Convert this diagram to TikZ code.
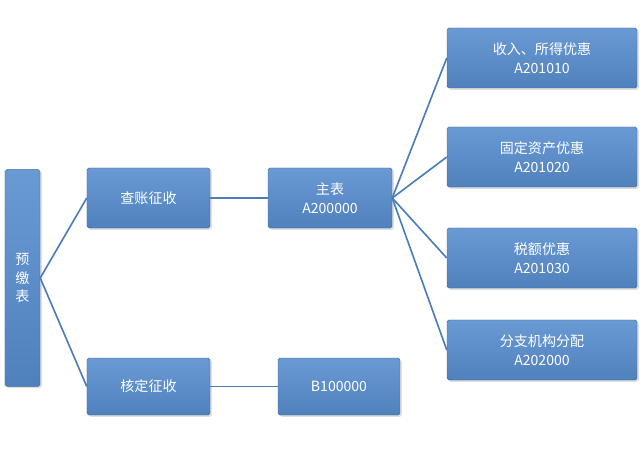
\documentclass[tikz,border=0pt]{standalone}
\usepackage{fontspec}
\setmainfont{Liberation Sans}
\newfontfamily\cjk{Noto Sans CJK SC}
\usetikzlibrary{shadows}
\definecolor{boxblue}{HTML}{4F81BD}
\definecolor{boxtop}{HTML}{6A9AD4}
\definecolor{linkblue}{HTML}{4A7EBB}
\begin{document}
\begin{tikzpicture}[x=0.03cm,y=-0.03cm,
    blk/.style={draw=boxblue!80!black,rounded corners=1.5pt,top color=boxtop,bottom color=boxblue,
      text=white,align=center,font=\cjk\fontsize{12}{16}\selectfont,inner sep=0pt,
      drop shadow={shadow xshift=1.5pt,shadow yshift=-1.5pt,opacity=0.25}},
    link/.style={linkblue,line width=1.4pt}]
  \useasboundingbox (0,0) rectangle (640,452);
  % left column
  \node[blk,minimum width=1.05cm,minimum height=6.5cm] (yj) at (22.5,278) {预\\缴\\表};
  \node[blk,minimum width=3.69cm,minimum height=1.8cm] (cz) at (148.5,198) {查账征收};
  \node[blk,minimum width=3.69cm,minimum height=1.71cm] (hd) at (148.5,386.5) {核定征收};
  % middle column
  \node[blk,minimum width=3.72cm,minimum height=1.8cm] (zb) at (330,198) {主表\\A200000};
  \node[blk,minimum width=3.66cm,minimum height=1.71cm] (b1) at (339,386.5) {B100000};
  % right column
  \node[blk,minimum width=5.7cm,minimum height=1.8cm] (r1) at (542,58) {收入、所得优惠\\A201010};
  \node[blk,minimum width=5.7cm,minimum height=1.8cm] (r2) at (542,157) {固定资产优惠\\A201020};
  \node[blk,minimum width=5.7cm,minimum height=1.8cm] (r3) at (542,258) {税额优惠\\A201030};
  \node[blk,minimum width=5.7cm,minimum height=1.8cm] (r4) at (542,350) {分支机构分配\\A202000};
  % connectors
  \draw[link] (yj.east) -- (cz.west);
  \draw[link] (yj.east) -- (hd.west);
  \draw[link] (cz.east) -- (zb.west);
  \draw[link] (hd.east) -- (b1.west);
  \foreach \r in {r1,r2,r3,r4}
    \draw[link] (zb.east) -- (\r.west);
\end{tikzpicture}
\end{document}
